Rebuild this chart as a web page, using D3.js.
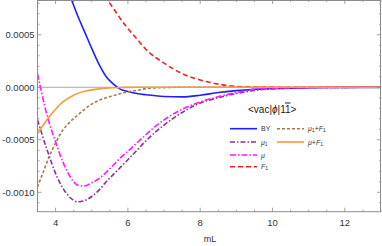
<!DOCTYPE html>
<html>
<head>
<meta charset="utf-8">
<script src="https://cdn.jsdelivr.net/npm/d3@7"></script>
<style>
  body { margin: 0; background: #fff; }
  svg { display: block; font-family: "Liberation Sans", Arial, sans-serif; }
</style>
</head>
<body>
<div id="chart"></div>
<script>
// mL grid shared by every curve
const mL = [3.5, 3.6, 3.7, 3.8, 3.9, 4.0, 4.2, 4.4, 4.6, 4.8, 5.0, 5.2, 5.4, 5.6, 5.8, 6.0,
            6.25, 6.5, 7.0, 7.5, 8.0, 8.5, 9.0, 9.5, 10, 11, 12, 13];

const byVals = [null, null, null, null, null, null, 0.00105, 0.00087, 0.00069, 0.00053, 0.00037,
  0.00022, 0.00010, 0.00003, -0.00002, -0.00004, -0.00006, -0.000072, -0.000088, -0.000092,
  -0.000076, -0.00005, -0.000032, -0.00002, -0.000012, -0.000005, -0.000002, -0.000001];
const mu1Vals = [-0.00031, -0.00042, -0.00053, -0.00063, -0.00073, -0.00082, -0.00096, -0.00105,
  -0.00109, -0.00108, -0.00104, -0.00098, -0.00090, -0.00083, -0.00076, -0.00069, -0.00060,
  -0.00051, -0.00036, -0.00024, -0.00015, -0.0001, -0.00006, -0.00003, -0.000015, -0.000004,
  -0.000001, 0];
const muVals = [0.00013, -0.00003, -0.00018, -0.00031, -0.00042, -0.00052, -0.00071, -0.00085,
  -0.00093, -0.00094, -0.00091, -0.00087, -0.00081, -0.00074, -0.00067, -0.00061, -0.00053,
  -0.00045, -0.00031, -0.00021, -0.00014, -0.00009, -0.00005, -0.00002, -0.00001, -0.000003,
  -0.000001, 0];
const f1Vals = [null, null, null, null, null, null, null, null, null, null, 0.00106, 0.00095,
  0.00085, 0.00075, 0.00065, 0.00056, 0.00046, 0.00036, 0.00023, 0.00013, 0.00007, 0.00003,
  0.000008, 0.000003, 0.000001, 0, 0, 0];
const mu1F1Vals = [-0.00095, -0.00086, -0.00077, -0.00068, -0.0006, -0.00053, -0.00041, -0.00033,
  -0.00027, -0.00021, -0.00016, -0.000125, -0.0001, -0.00008, -0.00006, -0.000045, -0.00003,
  -0.000013, -0.000003, 0, 0, 0, 0, 0, 0, 0, 0, 0];
const muF1Vals = [-0.00044, -0.00039, -0.00034, -0.00029, -0.00025, -0.00021, -0.00014, -0.000095,
  -0.00006, -0.000038, -0.000025, -0.000015, -0.000008, -0.000004, -0.000002, -0.000001,
  0, 0, 0, 0, 0, 0, 0, 0, 0, 0, 0, 0];

const xTicks = [4, 6, 8, 10, 12];
const yTicks = [-0.001, -0.0005, 0, 0.0005];
const yTickLabels = ["-0.0010", "-0.0005", "0.0000", "0.0005"];

const series = [
  { name: "BY", vals: byVals, color: "#1f1fff", dash: null },
  { name: "mu1", vals: mu1Vals, color: "#8e2f9c", dash: "5,2,1.5,2" },
  { name: "mu", vals: muVals, color: "#ff1aff", dash: "6,2,1.5,2" },
  { name: "F1", vals: f1Vals, color: "#f22020", dash: "5,3" },
  { name: "mu1F1", vals: mu1F1Vals, color: "#a87a4c", dash: "3,2" },
  { name: "muF1", vals: muF1Vals, color: "#fb9a3c", dash: null }
];

const width = 382, height = 246;
const plotL = 37.5, plotR = 381, plotT = 0, plotB = 211.7;

const svg = d3.select('#chart').append('svg')
  .attr('width', width)
  .attr('height', height);

const x = d3.scaleLinear().domain([3.5, 13]).range([plotL, plotR]);
const y = d3.scaleLinear().domain([-0.001185, 0.000831]).range([plotB, plotT]);

svg.append('clipPath').attr('id', 'clip')
  .append('rect')
  .attr('x', plotL).attr('y', plotT)
  .attr('width', plotR - plotL).attr('height', plotB - plotT);

// zero line
svg.append('line')
  .attr('x1', plotL).attr('x2', plotR)
  .attr('y1', y(0)).attr('y2', y(0))
  .attr('stroke', '#a8a8a8').attr('stroke-width', 1);

const line = d3.line()
  .defined(d => d[1] !== null)
  .x(d => x(d[0]))
  .y(d => y(d[1]))
  .curve(d3.curveMonotoneX);

const plot = svg.append('g').attr('clip-path', 'url(#clip)');
series.forEach(s => {
  plot.append('path')
    .datum(mL.map((m, i) => [m, s.vals[i]]))
    .attr('d', line)
    .attr('fill', 'none')
    .attr('stroke', s.color)
    .attr('stroke-width', 1.6)
    .attr('stroke-dasharray', s.dash);
});

// frame with ticks on all sides
const frameColor = '#8c8c8c';
svg.append('rect')
  .attr('x', plotL).attr('y', plotT + 0.5)
  .attr('width', plotR - plotL - 0.5).attr('height', plotB - plotT - 0.5)
  .attr('fill', 'none').attr('stroke', frameColor).attr('stroke-width', 1);

const ticks = svg.append('g').attr('stroke', frameColor).attr('stroke-width', 0.8);
d3.range(7, 27).forEach(k => {
  const v = k * 0.5;
  const len = xTicks.includes(v) ? 4 : 2;
  const px = x(v);
  ticks.append('line').attr('x1', px).attr('x2', px).attr('y1', plotB).attr('y2', plotB - len);
  ticks.append('line').attr('x1', px).attr('x2', px).attr('y1', plotT).attr('y2', plotT + len);
});
d3.range(-11, 9).forEach(k => {
  const v = k * 0.0001;
  const len = (k % 5 === 0) ? 4 : 2;
  const py = y(v);
  ticks.append('line').attr('x1', plotL).attr('x2', plotL + len).attr('y1', py).attr('y2', py);
  ticks.append('line').attr('x1', plotR).attr('x2', plotR - len).attr('y1', py).attr('y2', py);
});

// tick labels
svg.selectAll('.xlab').data(xTicks).enter().append('text')
  .attr('x', d => x(d)).attr('y', 226)
  .attr('text-anchor', 'middle')
  .attr('font-size', 9.5).attr('fill', '#333')
  .text(d => d);
svg.selectAll('.ylab').data(yTicks).enter().append('text')
  .attr('x', 34.5).attr('y', d => y(d) + 3.3)
  .attr('text-anchor', 'end')
  .attr('font-size', 9.5).attr('fill', '#333')
  .text((d, i) => yTickLabels[i]);

svg.append('text')
  .attr('x', 210).attr('y', 242)
  .attr('text-anchor', 'middle')
  .attr('font-size', 9).attr('fill', '#333')
  .text('mL');

// legend title
const title = svg.append('text')
  .attr('x', 248).attr('y', 112.5)
  .attr('font-size', 10).attr('fill', '#222');
title.append('tspan').text('<vac|');
title.append('tspan').attr('font-style', 'italic').text('ϕ');
title.append('tspan').text('|1');
title.append('tspan').attr('text-decoration', 'overline').text('1');
title.append('tspan').text('>');

// legend entries
const legendItems = [
  { s: 0, col: 0, row: 0, label: [['BY', false]] },
  { s: 1, col: 0, row: 1, label: [['μ', true], ['1', 'sub']] },
  { s: 2, col: 0, row: 2, label: [['μ', true]] },
  { s: 3, col: 0, row: 3, label: [['F', true], ['1', 'sub']] },
  { s: 4, col: 1, row: 0, label: [['μ', true], ['1', 'sub'], ['+', false], ['F', true], ['1', 'sub']] },
  { s: 5, col: 1, row: 1, label: [['μ', true], ['+', false], ['F', true], ['1', 'sub']] }
];
const colX = [230, 277], rowY = [128.7, 142, 155, 166.7];
legendItems.forEach(it => {
  const s = series[it.s];
  const lx = colX[it.col], ly = rowY[it.row];
  svg.append('line')
    .attr('x1', lx).attr('x2', lx + 27)
    .attr('y1', ly).attr('y2', ly)
    .attr('stroke', s.color).attr('stroke-width', 1.6)
    .attr('stroke-dasharray', s.dash);
  const t = svg.append('text')
    .attr('x', lx + 31).attr('y', ly + 2.5)
    .attr('font-size', 7).attr('fill', '#333');
  it.label.forEach(([txt, st]) => {
    const sp = t.append('tspan').text(txt);
    if (st === true) sp.attr('font-style', 'italic');
    if (st === 'sub') sp.attr('font-size', 5).attr('baseline-shift', '-25%');
  });
});
</script>
</body>
</html>
